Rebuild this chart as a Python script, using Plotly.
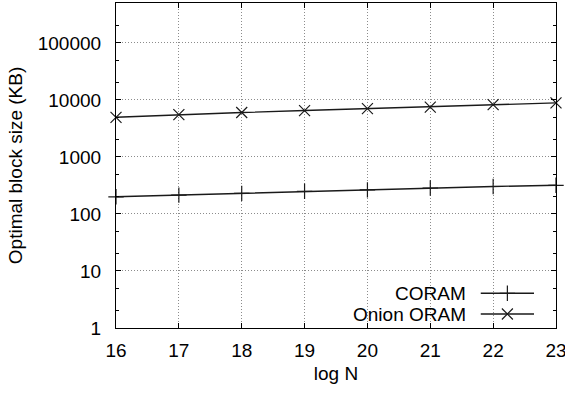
import plotly.graph_objects as go

# log2 of the number of blocks
log_n = [16, 17, 18, 19, 20, 21, 22, 23]
# optimal block size in KB
coram = [200, 214, 229, 250, 264, 285, 303, 318]
onion_oram = [4950, 5520, 6000, 6500, 7040, 7450, 8250, 8850]

y_major = [1, 10, 100, 1000, 10000, 100000]
y_minor = [m * 10 ** e for e in range(0, 6) for m in (2, 5)]

FONT = "Liberation Sans, Arial, sans-serif"
FS = 19
LINE = "#1a1a1a"
GRID = "#8c8c8c"

fig = go.Figure()

fig.add_trace(go.Scatter(
    x=log_n, y=coram, mode="lines+markers", name="CORAM",
    line=dict(color=LINE, width=1.4),
    marker=dict(symbol="cross-thin", size=11, line=dict(color=LINE, width=1.2)),
    showlegend=False, cliponaxis=False,
))
fig.add_trace(go.Scatter(
    x=log_n, y=onion_oram, mode="lines+markers", name="Onion ORAM",
    line=dict(color=LINE, width=1.4),
    marker=dict(symbol="x-thin", size=11, line=dict(color=LINE, width=1.2)),
    showlegend=False, cliponaxis=False,
))

# key drawn gnuplot-style: label, then line sample with marker, bottom right
key_rows = [("CORAM", "cross-thin", 0.107), ("Onion ORAM", "x-thin", 0.043)]
key_x0, key_x1 = 0.829, 0.95
fig.add_shape(type="rect", xref="paper", yref="paper",
              x0=0.52, x1=0.997, y0=0.003, y1=0.135,
              fillcolor="white", line=dict(width=0), layer="between")
for label, sym, ky in key_rows:
    fig.add_annotation(x=0.801, y=ky, xref="paper", yref="paper", text=label,
                       showarrow=False, xanchor="right", yanchor="middle",
                       font=dict(family=FONT, size=FS, color="black"))
    fig.add_shape(type="line", xref="paper", yref="paper",
                  x0=key_x0, x1=key_x1, y0=ky, y1=ky,
                  line=dict(color=LINE, width=1.4))
fig.add_trace(go.Scatter(
    x=[(key_x0 + key_x1) / 2] * 2, y=[r[2] for r in key_rows],
    xaxis="x2", yaxis="y2", mode="markers", showlegend=False, hoverinfo="skip",
    marker=dict(symbol=[r[1] for r in key_rows], size=11,
                line=dict(color=LINE, width=1.2)),
))

fig.update_layout(
    width=565, height=393,
    margin=dict(l=116, r=9, t=3, b=65, autoexpand=False),
    paper_bgcolor="white", plot_bgcolor="white",
    font=dict(family=FONT, size=FS, color="black"),
    xaxis=dict(
        range=[15.9999, 23.0001], tickmode="array", tickvals=log_n,
        ticks="inside", ticklen=5, tickwidth=1, tickcolor="black",
        showline=True, linecolor="black", linewidth=1.2, mirror="ticks",
        showgrid=True, gridcolor=GRID, griddash="1px,2px", gridwidth=1,
        zeroline=False, ticklabelstandoff=5, ticklabeloverflow="allow",
        automargin=False,
        title=dict(text="log N", standoff=6, font=dict(size=FS)),
    ),
    yaxis=dict(
        type="log", range=[0, 5.699], tickmode="array", tickvals=y_major,
        ticktext=[str(v) for v in y_major],
        ticks="inside", ticklen=5, tickwidth=1, tickcolor="black",
        minor=dict(tickvals=y_minor, ticks="inside", ticklen=3,
                   tickcolor="black", showgrid=False),
        showline=True, linecolor="black", linewidth=1.2, mirror="ticks",
        showgrid=True, gridcolor=GRID, griddash="1px,2px", gridwidth=1,
        zeroline=False, ticklabelstandoff=10, automargin=False,
        title=dict(text="Optimal block size (KB)", standoff=10, font=dict(size=FS)),
    ),
    xaxis2=dict(overlaying="x", range=[0, 1], visible=False),
    yaxis2=dict(overlaying="y", range=[0, 1], visible=False),
)

fig.write_html("out.html")
